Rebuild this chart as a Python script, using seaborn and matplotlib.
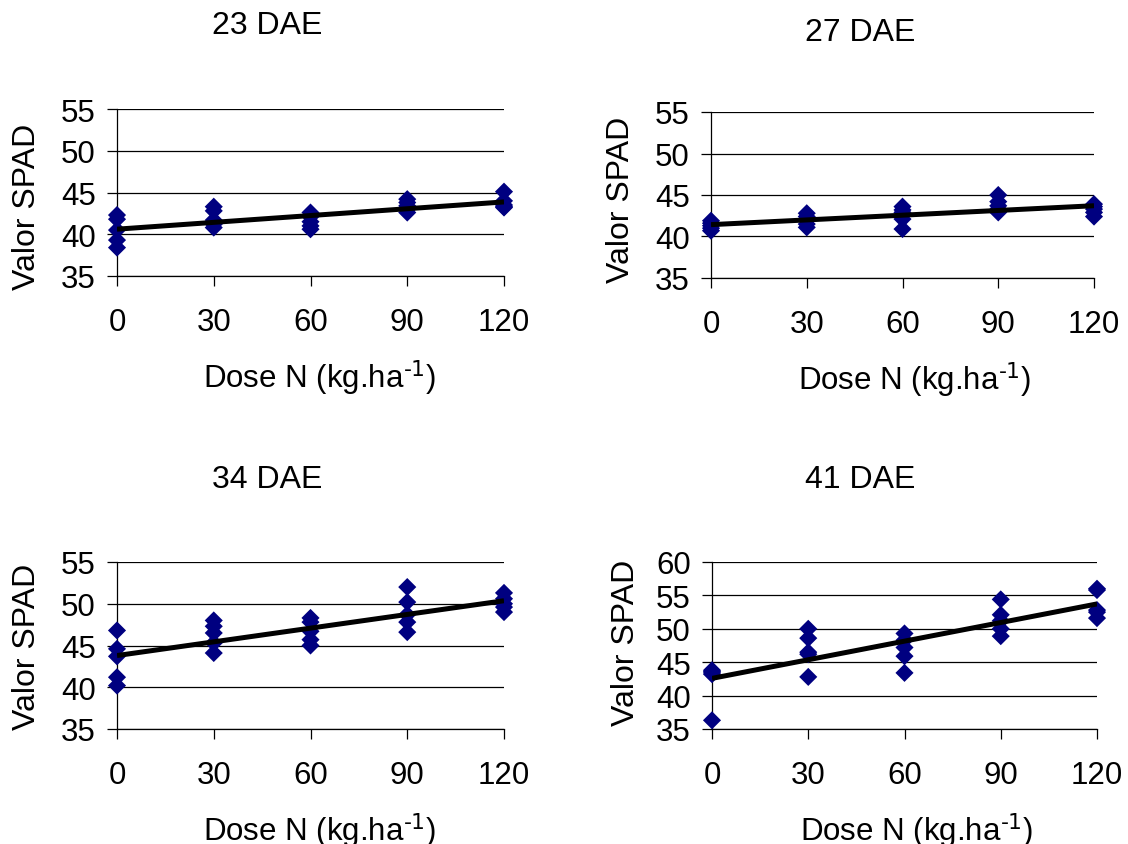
import matplotlib
matplotlib.use("Agg")
import matplotlib.pyplot as plt
import pandas as pd
import seaborn as sns

# Nitrogen doses (kg/ha) and SPAD readings per dose, one list per sampling date
doses = [0, 30, 60, 90, 120]

spad_23dae = [
    [42.3, 41.8, 40.5, 39.3, 38.4],
    [43.3, 42.8, 41.7, 41.2, 40.8],
    [42.6, 42.1, 41.5, 41.0, 40.6],
    [44.2, 43.8, 43.4, 43.0, 42.6],
    [45.1, 44.0, 43.5, 43.3, 43.2],
]
spad_27dae = [
    [41.9, 41.6, 41.3, 41.0, 40.7],
    [42.8, 42.4, 42.0, 41.5, 41.1],
    [43.6, 43.2, 42.9, 42.1, 40.9],
    [45.0, 44.2, 43.7, 43.3, 42.9],
    [43.9, 43.6, 43.3, 42.9, 42.4],
]
spad_34dae = [
    [46.8, 44.6, 43.7, 41.2, 40.2],
    [48.0, 47.3, 46.5, 45.3, 44.1],
    [48.3, 47.8, 46.7, 45.7, 45.0],
    [52.0, 50.2, 48.7, 47.8, 46.6],
    [51.3, 50.6, 50.0, 49.6, 49.0],
]
spad_41dae = [
    [43.8, 43.6, 43.4, 43.2, 36.3],
    [50.0, 48.6, 46.5, 46.2, 42.8],
    [49.3, 48.3, 47.2, 45.9, 43.4],
    [54.4, 52.1, 51.2, 50.0, 48.9],
    [56.0, 55.8, 52.8, 52.5, 51.6],
]

titles = ["23 DAE", "27 DAE", "34 DAE", "41 DAE"]
y_ticks = [
    [35, 40, 45, 50, 55],
    [35, 40, 45, 50, 55],
    [35, 40, 45, 50, 55],
    [35, 40, 45, 50, 55, 60],
]
x_label = r"Dose N (kg.ha$^{\text{-1}}$)"
y_label = "Valor SPAD"

sns.set_theme(style="white")
plt.rcParams["font.family"] = ["Liberation Sans", "DejaVu Sans"]
plt.rcParams["mathtext.default"] = "regular"

W, H = 1128, 845
fig = plt.figure(figsize=(W / 100, H / 100), dpi=100)
fig.patch.set_facecolor("white")

# Panel frames in pixels: left, top, right, bottom
frames = [
    (117, 110, 504, 277),
    (711, 113, 1094, 279),
    (117, 563, 504, 730),
    (712, 563, 1097, 730),
]
title_pos = [(267, 26), (860, 33), (267, 480), (860, 480)]
ylabel_pos = [(27, 207), (621, 200), (27, 647), (626, 643)]
xlabel_pos = [(320, 388), (915, 390), (320, 841), (917, 841)]

series = [spad_23dae, spad_27dae, spad_34dae, spad_41dae]

for i, values in enumerate(series):
    l, t, r, b = frames[i]
    ax = fig.add_axes([l / W, 1 - b / H, (r - l) / W, (b - t) / H])

    df = pd.DataFrame(
        [(d, v) for d, vals in zip(doses, values) for v in vals],
        columns=["dose", "spad"],
    )

    sns.scatterplot(
        data=df, x="dose", y="spad", ax=ax, marker="D", s=85,
        color="#000080", edgecolor="none", linewidth=0,
        clip_on=False, zorder=3,
    )
    sns.regplot(
        data=df, x="dose", y="spad", ax=ax, scatter=False, ci=None,
        truncate=True,
        line_kws=dict(color="black", lw=3.6, solid_capstyle="butt", zorder=4),
    )

    ax.set_xlim(0, 120)
    ax.set_ylim(y_ticks[i][0], y_ticks[i][-1])
    ax.set_xticks(doses)
    ax.set_yticks(y_ticks[i])
    ax.tick_params(axis="both", direction="out", length=7.2, width=0.9,
                   color="black", labelsize=22.5, labelcolor="black")
    ax.tick_params(axis="x", pad=15, bottom=True)
    ax.tick_params(axis="y", pad=8, left=True)

    ax.yaxis.grid(True, color="black", lw=0.9)
    ax.xaxis.grid(False)
    ax.set_axisbelow(True)
    for side in ("top", "right"):
        ax.spines[side].set_visible(False)
    for side in ("left", "bottom"):
        ax.spines[side].set_color("black")
        ax.spines[side].set_linewidth(0.9)

    # axis labels positioned in axes coordinates
    ax.set_xlabel(x_label, fontsize=22.5, color="black")
    px, py = xlabel_pos[i]
    ax.xaxis.set_label_coords((px - l) / (r - l), (b - py) / (b - t))
    ax.xaxis.label.set_va("baseline")

    ax.set_ylabel(y_label, fontsize=23, color="black")
    px, py = ylabel_pos[i]
    ax.yaxis.set_label_coords((px - l) / (r - l), (b - py) / (b - t))
    ax.yaxis.label.set_va("center")

    tx, ty = title_pos[i]
    fig.text(tx / W, 1 - ty / H, titles[i], ha="center", va="center",
             fontsize=23, color="black")

fig.savefig("out.png", dpi=100, facecolor="white")
